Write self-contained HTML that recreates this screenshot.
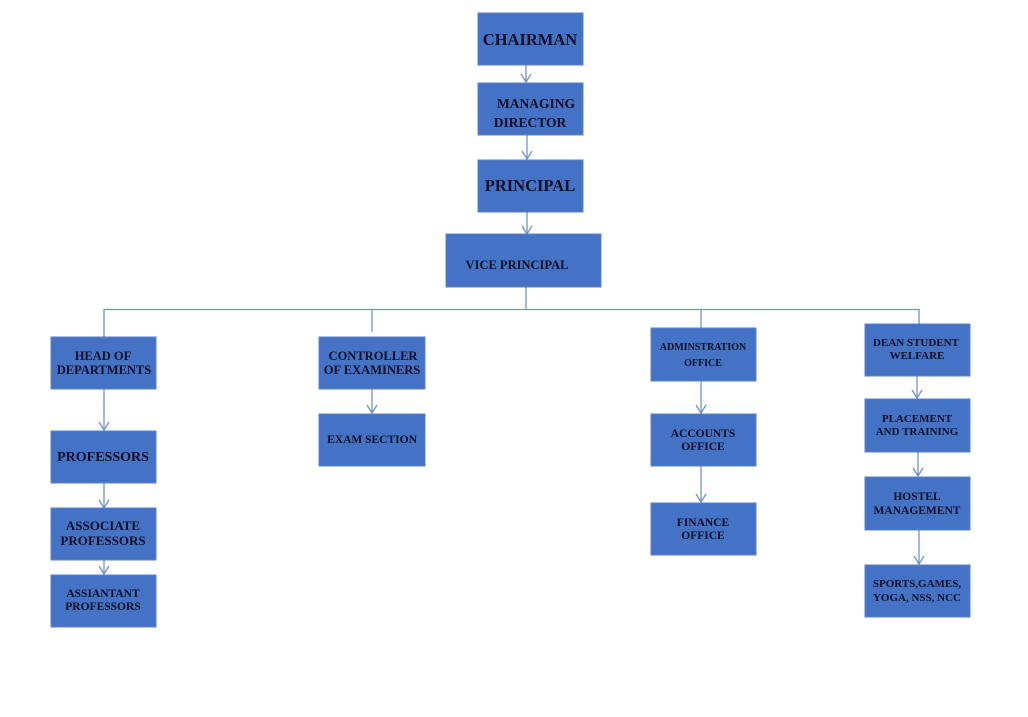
<!DOCTYPE html>
<html><head><meta charset="utf-8"><style>
html,body{margin:0;padding:0;background:#fff;}
svg{display:block;}
text{font-family:"Liberation Serif",serif;font-weight:bold;fill:#101028;text-anchor:middle;}
</style></head><body>
<svg width="1028" height="717" viewBox="0 0 1028 717" xmlns="http://www.w3.org/2000/svg">
<g stroke="#6f93c9" stroke-width="1.3" fill="none">
<line x1="526" y1="65" x2="526" y2="82"/><path d="M521,74 L526,82 L531,74"/>
<line x1="527" y1="135" x2="527" y2="159"/><path d="M522,151 L527,159 L532,151"/>
<line x1="527" y1="212" x2="527" y2="234"/><path d="M522,226 L527,234 L532,226"/>
<line x1="526" y1="287" x2="526" y2="310"/>
<line x1="104" y1="309.5" x2="919" y2="309.5"/>
<line x1="104" y1="309" x2="104" y2="337"/>
<line x1="372" y1="309" x2="372" y2="332"/>
<line x1="701" y1="309" x2="701" y2="328"/>
<line x1="919" y1="309" x2="919" y2="324"/>
<line x1="104" y1="389" x2="104" y2="430"/><path d="M99,422 L104,430 L109,422"/>
<line x1="104" y1="483" x2="104" y2="508"/><path d="M99,500 L104,508 L109,500"/>
<line x1="104" y1="560" x2="104" y2="574"/><path d="M99,566 L104,574 L109,566"/>
<line x1="372" y1="389" x2="372" y2="413"/><path d="M367,405 L372,413 L377,405"/>
<line x1="701" y1="381" x2="701" y2="413"/><path d="M696,405 L701,413 L706,405"/>
<line x1="701" y1="466" x2="701" y2="502"/><path d="M696,494 L701,502 L706,494"/>
<line x1="917" y1="376" x2="917" y2="398"/><path d="M912,390 L917,398 L922,390"/>
<line x1="918" y1="452" x2="918" y2="476"/><path d="M913,468 L918,476 L923,468"/>
<line x1="919" y1="530" x2="919" y2="564"/><path d="M914,556 L919,564 L924,556"/>
</g>
<g fill="#4472c4" stroke="#5b80c8" stroke-width="1">
<rect x="478" y="13" width="105" height="52"/>
<rect x="478" y="83" width="105" height="52"/>
<rect x="478" y="160" width="105" height="52"/>
<rect x="446" y="234" width="155" height="53"/>
<rect x="51" y="337" width="105" height="52"/>
<rect x="51" y="431" width="105" height="52"/>
<rect x="51" y="508" width="105" height="52"/>
<rect x="51" y="575" width="105" height="52"/>
<rect x="319" y="337" width="106" height="52"/>
<rect x="319" y="414" width="106" height="52"/>
<rect x="651" y="328" width="105" height="53"/>
<rect x="651" y="414" width="105" height="52"/>
<rect x="651" y="503" width="105" height="52"/>
<rect x="865" y="324" width="105" height="52"/>
<rect x="865" y="399" width="105" height="53"/>
<rect x="865" y="477" width="105" height="53"/>
<rect x="865" y="565" width="105" height="52"/>
</g>
<text x="530" y="45" font-size="16.5">CHAIRMAN</text>
<text x="536" y="108" font-size="13.5">MANAGING</text>
<text x="530" y="127" font-size="13.5">DIRECTOR</text>
<text x="530" y="191" font-size="16.5">PRINCIPAL</text>
<text x="517" y="269" font-size="12.5">VICE PRINCIPAL</text>
<text x="103" y="360" font-size="12.5">HEAD OF</text>
<text x="104" y="374" font-size="12.5">DEPARTMENTS</text>
<text x="103" y="461" font-size="14">PROFESSORS</text>
<text x="103" y="530" font-size="13">ASSOCIATE</text>
<text x="103" y="545" font-size="13">PROFESSORS</text>
<text x="103" y="597" font-size="11.5">ASSIANTANT</text>
<text x="103" y="610" font-size="11.5">PROFESSORS</text>
<text x="373" y="360" font-size="12.5">CONTROLLER</text>
<text x="372" y="374" font-size="12.5">OF EXAMINERS</text>
<text x="372" y="443" font-size="11.5">EXAM  SECTION</text>
<text x="703" y="350" font-size="10">ADMINSTRATION</text>
<text x="703" y="366" font-size="10">OFFICE</text>
<text x="703" y="437" font-size="11.5">ACCOUNTS</text>
<text x="703" y="450" font-size="11.5">OFFICE</text>
<text x="703" y="526" font-size="11.5">FINANCE</text>
<text x="703" y="539" font-size="11.5">OFFICE</text>
<text x="916" y="346" font-size="11">DEAN  STUDENT</text>
<text x="917" y="359" font-size="11">WELFARE</text>
<text x="917" y="422" font-size="11">PLACEMENT</text>
<text x="917" y="435" font-size="11">AND   TRAINING</text>
<text x="917" y="500" font-size="11.5">HOSTEL</text>
<text x="917" y="514" font-size="11.5">MANAGEMENT</text>
<text x="917" y="587" font-size="11">SPORTS,GAMES,</text>
<text x="917" y="601" font-size="11">YOGA, NSS, NCC</text>
</svg>
</body></html>
